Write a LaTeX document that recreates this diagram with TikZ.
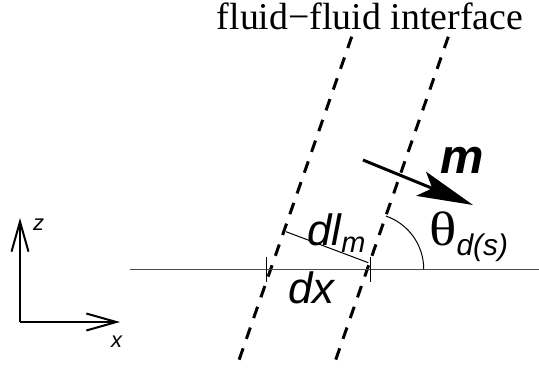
\documentclass[tikz,border=0pt]{standalone}
\usepackage{fontspec}
\setmainfont{Liberation Serif}
\setsansfont{Liberation Sans}
\usetikzlibrary{arrows.meta,positioning,calc}
\tikzset{
  iface/.style={line width=3bp, dash pattern=on 12bp off 10bp},
  ground/.style={draw=black!70, line width=1bp},
  tickmark/.style={line width=1bp},
  axis/.style={line width=2bp, -{Straight Barb[length=30bp,width=17bp]}},
  normalvec/.style={line width=3bp, -{Stealth[length=56bp,width=26bp,inset=12bp]}},
  lbl/.style={font=\sffamily\itshape\fontsize{44}{46}\selectfont, inner sep=0pt, anchor=base west},
  axlbl/.style={font=\sffamily\itshape\fontsize{22}{24}\selectfont, inner sep=0pt, anchor=base west},
  title/.style={font=\rmfamily\fontsize{38}{40}\selectfont, inner sep=0pt, anchor=base, text height=26bp}
}
\begin{document}
\begin{tikzpicture}[x=1bp, y=1bp]
  \useasboundingbox (0,0) rectangle (539,374);
  % interface
  \coordinate (ltop) at (351.7,337.3);
  \coordinate (lbot) at (236.7,7.3);
  \coordinate (rtop) at (448.3,337.3);
  \coordinate (rbot) at (333.3,7.3);
  \draw[iface] (ltop) -- (lbot);
  \draw[iface] (rtop) -- (rbot);
  \node[title] (ttl) at (370,345) {fluid\textminus fluid interface};

  % solid surface
  \coordinate (gl) at (130,105);
  \coordinate (gr) at (539,105);
  \draw[ground] (gl) -- (gr);
  \coordinate (cross) at (367.7,105);

  % dx and dl_m
  \coordinate (t1a) at (266.7,117);
  \coordinate (t1b) at (266.7,92);
  \coordinate (t2a) at (370.3,117);
  \coordinate (t2b) at (370.3,92);
  \draw[tickmark] (t1a) -- (t1b);
  \draw[tickmark] (t2a) -- (t2b);
  \coordinate (dla) at (286,142.3);
  \coordinate (dlb) at (368.3,111.3);
  \draw[tickmark] (dla) -- (dlb);
  \node[lbl] (dl) at (307,129) {dl\raisebox{-7bp}{\fontsize{29}{30}\selectfont m}};
  \node[lbl] (dx) at (288,71) {dx};

  % contact angle
  \draw[tickmark] ([xshift=56bp]cross) arc (0:71:56bp);
  \node[lbl] (theta) at (429,129) {\rmfamily\upshape\scalebox{1.3}[1.1]{θ}\raisebox{-10bp}{\sffamily\itshape\fontsize{30}{31}\selectfont d(s)}};

  % normal
  \coordinate (ma) at (363,214);
  \coordinate (mb) at (473,169);
  \draw[normalvec] (ma) -- (mb);
  \node[lbl, font=\sffamily\bfseries\itshape\fontsize{49}{50}\selectfont] (m) at (440,201) {m};

  % axes
  \coordinate (o) at (20,52);
  \coordinate (zend) at (20,156);
  \coordinate (xend) at (120,52);
  \draw[axis] (o) -- (zend);
  \draw[axis] (o) -- (xend);
  \node[axlbl] (zl) at (33,144) {z};
  \node[axlbl] (xl) at (111,27) {x};
\end{tikzpicture}
\end{document}
